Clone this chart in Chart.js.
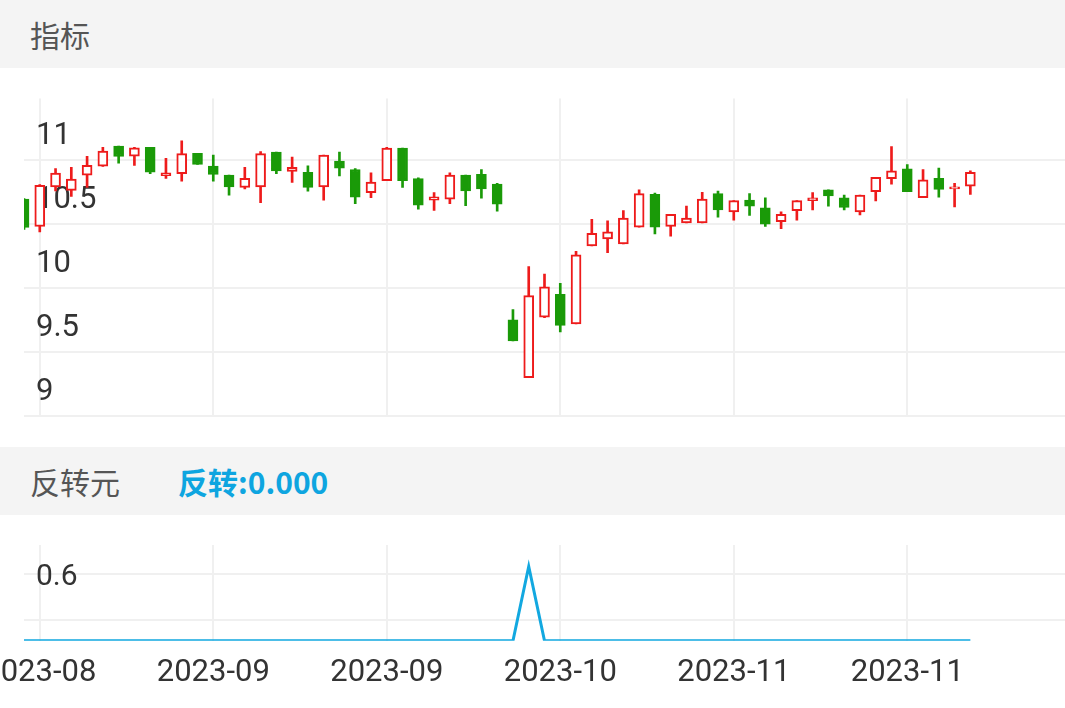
<!DOCTYPE html>
<html>
<head>
<meta charset="utf-8">
<script src="https://cdn.jsdelivr.net/npm/chart.js@4/dist/chart.umd.min.js"></script>
<style>
   body { margin: 0; width: 1065px; height: 708px; overflow: hidden; background: #fff; font-family: "Noto Sans CJK SC", "Noto Sans", sans-serif; }
   .band { position: absolute; left: 0; width: 1065px; height: 68px; background: #f4f4f4; }
   .band span { position: absolute; top: 12px; font-size: 30px; color: #555; }
   #top { position: absolute; left: 0; top: 68px; }
   #bottom { position: absolute; left: 0; top: 515px; }
</style>
</head>
<body>
<div class="band" style="top:0"><span style="left:30px">指标</span></div>
<div class="band" style="top:447px"><span style="left:30px">反转元</span><span style="left:178px;color:#0ea5e0;font-weight:bold">反转:0.000</span></div>
<div id="top"><canvas id="kChart" width="1065" height="379"></canvas></div>
<div id="bottom"><canvas id="fanChart" width="1065" height="193"></canvas></div>
<script>
   var opens  = [10.695, 10.482, 10.79, 10.764, 10.883, 10.953, 11.11, 11.03, 11.10, 10.879,
                 10.894, 11.052, 10.953, 10.883, 10.786, 10.79, 11.063, 10.911, 10.905, 10.79,
                 10.992, 10.927, 10.746, 10.84, 11.093, 10.855, 10.688, 10.695, 10.883, 10.89,
                 10.812, 9.753, 9.303, 9.775, 9.953, 9.721, 10.331, 10.385, 10.346, 10.476,
                 10.732, 10.483, 10.509, 10.509, 10.738, 10.595, 10.688, 10.628, 10.519, 10.606,
                 10.684, 10.768, 10.706, 10.595, 10.753, 10.855, 10.931, 10.706, 10.857, 10.775,
                 10.797];
   var closes = [10.474, 10.803, 10.898, 10.851, 10.959, 11.071, 11.028, 11.095, 10.905, 10.90,
                 11.05, 10.966, 10.888, 10.79, 10.857, 11.05, 10.916, 10.944, 10.786, 11.039,
                 10.937, 10.71, 10.829, 11.093, 10.84, 10.649, 10.714, 10.883, 10.76, 10.775,
                 10.656, 9.589, 9.942, 10.011, 9.71, 10.26, 10.429, 10.44, 10.547, 10.738,
                 10.476, 10.576, 10.547, 10.695, 10.612, 10.684, 10.641, 10.50, 10.576, 10.684,
                 10.706, 10.721, 10.63, 10.727, 10.866, 10.916, 10.753, 10.846, 10.771, 10.786,
                 10.905];
   var highs  = [10.70, 10.81, 10.933, 10.944, 11.03, 11.10, 11.11, 11.10, 11.10, 11.013,
                 11.15, 11.052, 11.04, 10.883, 10.944, 11.067, 11.063, 11.024, 10.955, 11.039,
                 11.063, 10.933, 10.90, 11.10, 11.093, 10.862, 10.747, 10.90, 10.883, 10.927,
                 10.818, 9.833, 10.169, 10.11, 10.039, 10.288, 10.537, 10.526, 10.606, 10.768,
                 10.743, 10.576, 10.641, 10.749, 10.758, 10.684, 10.738, 10.706, 10.597, 10.684,
                 10.747, 10.768, 10.727, 10.727, 10.866, 11.106, 10.966, 10.927, 10.937, 10.818,
                 10.916];
   var lows   = [10.46, 10.44, 10.76, 10.716, 10.786, 10.95, 10.976, 10.959, 10.894, 10.857,
                 10.836, 10.966, 10.836, 10.727, 10.775, 10.667, 10.894, 10.825, 10.758, 10.688,
                 10.877, 10.66, 10.706, 10.84, 10.786, 10.617, 10.608, 10.66, 10.645, 10.703,
                 10.602, 9.589, 9.303, 9.77, 9.66, 9.721, 10.331, 10.277, 10.346, 10.476,
                 10.424, 10.407, 10.509, 10.509, 10.554, 10.531, 10.569, 10.483, 10.465, 10.531,
                 10.612, 10.641, 10.612, 10.573, 10.682, 10.812, 10.753, 10.706, 10.71, 10.634,
                 10.732];
   var fanValues = [-0.27, -0.27, -0.27, -0.27, -0.27, -0.27, -0.27, -0.27, -0.27, -0.27,
                    -0.27, -0.27, -0.27, -0.27, -0.27, -0.27, -0.27, -0.27, -0.27, -0.27,
                    -0.27, -0.27, -0.27, -0.27, -0.27, -0.27, -0.27, -0.27, -0.27, -0.27,
                    -0.27, -0.27, 0.7, -0.27, -0.27, -0.27, -0.27, -0.27, -0.27, -0.27,
                    -0.27, -0.27, -0.27, -0.27, -0.27, -0.27, -0.27, -0.27, -0.27, -0.27,
                    -0.27, -0.27, -0.27, -0.27, -0.27, -0.27, -0.27, -0.27, -0.27, -0.27,
                    -0.27];
   var dateTickPositions = [1, 12, 23, 34, 45, 56];
   var dateTickLabels = ['2023-08', '2023-09', '2023-09', '2023-10', '2023-11', '2023-11'];
   var priceTicks = [9, 9.5, 10, 10.5, 11];
   var fanTicks = [0, 0.3, 0.6, 0.9];

   var RED = '#ee1b1b';
   var GREEN = '#1a9a08';
   var GRID = '#f0f0f0';

   var wicks = opens.map((o, i) => ({x: i, y: [lows[i], highs[i]]}));
   var bodies = opens.map((o, i) => ({x: i, y: [Math.min(o, closes[i]), Math.max(o, closes[i])]}));
   var isUp = opens.map((o, i) => closes[i] >= o);
   var fanPoints = fanValues.map((v, i) => ({x: i, y: v}));

   var dateAxis = function dateAxis(showLabels) {
      return {
         type: 'linear',
         min: 0,
         max: 66,
         offset: false,
         afterBuildTicks: axis => { axis.ticks = dateTickPositions.map(v => ({value: v})); },
         afterFit: axis => { axis.paddingLeft = 0; axis.paddingRight = 0; },
         grid: { color: GRID, lineWidth: 2, drawTicks: false, offset: false },
         border: { display: false },
         ticks: {
            display: showLabels,
            autoSkip: false,
            maxRotation: 0,
            padding: 14,
            color: '#333',
            font: { size: 31, family: 'Roboto' },
            callback: (value, index) => dateTickLabels[index]
         }
      };
   };

   var priceAxisLabels = {
      mirror: true,
      padding: 12,
      color: '#333',
      font: { size: 31, family: 'Roboto' }
   };

   new Chart(document.getElementById('kChart'), {
      type: 'bar',
      data: {
         datasets: [{
            label: 'wick',
            data: wicks,
            order: 2,
            grouped: false,
            barThickness: 2,
            backgroundColor: isUp.map(u => u ? RED : GREEN),
            borderWidth: 0
         }, {
            label: 'body',
            data: bodies,
            order: 1,
            grouped: false,
            barThickness: 10,
            minBarLength: 2,
            backgroundColor: isUp.map(u => u ? '#ffffff' : GREEN),
            borderColor: isUp.map(u => u ? RED : GREEN),
            borderWidth: 2,
            borderSkipped: false
         }]
      },
      options: {
         responsive: false,
         animation: false,
         layout: { padding: 0 },
         scales: {
            x: dateAxis(false),
            y: {
               min: 9,
               max: 11.48,
               afterBuildTicks: axis => { axis.ticks = priceTicks.map(v => ({value: v})); },
               grid: { color: GRID, lineWidth: 2, drawTicks: false },
               border: { display: false },
               ticks: Object.assign({}, priceAxisLabels, {
                  labelOffset: -24,
                  callback: value => String(value)
               })
            }
         },
         plugins: { legend: { display: false }, tooltip: { enabled: false } }
      }
   });

   new Chart(document.getElementById('fanChart'), {
      type: 'line',
      data: {
         datasets: [{
            label: '反转',
            data: fanPoints,
            borderColor: '#12a8e0',
            borderWidth: 3,
            pointRadius: 0,
            tension: 0
         }]
      },
      options: {
         responsive: false,
         animation: false,
         layout: { padding: { top: 0, bottom: 2 } },
         scales: {
            x: dateAxis(true),
            y: {
               min: -0.27,
               max: 0.98,
               afterBuildTicks: axis => { axis.ticks = fanTicks.map(v => ({value: v})); },
               grid: { color: GRID, lineWidth: 2, drawTicks: false },
               border: { display: false },
               ticks: Object.assign({}, priceAxisLabels, {
                  labelOffset: 3,
                  font: { size: 30, family: 'Roboto' },
                  callback: value => value === 0 ? '' : value.toFixed(1)
               })
            }
         },
         plugins: { legend: { display: false }, tooltip: { enabled: false } }
      }
   });
</script>
</body>
</html>
